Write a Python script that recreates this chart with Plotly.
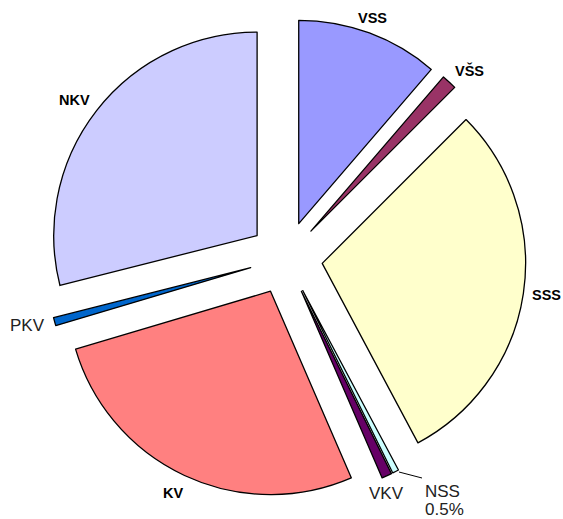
import plotly.graph_objects as go

labels = ["VSS", "VŠS", "SSS", "NSS", "VKV", "KV", "PKV", "NKV"]
values = [11.3, 1.2, 29.7, 0.5, 0.8, 26.9, 0.65, 28.95]
colors = ["#9999FF", "#993366", "#FFFFCC", "#CCFFFF", "#660066", "#FF8080", "#0066CC", "#CCCCFF"]

W, H = 563, 519
L, R, T, B = 46, 37, 18, 21
PW, PH = W - L - R, H - T - B


def px(x, y):
    return (x - L) / PW, 1 - (y - T) / PH


fig = go.Figure(go.Pie(
    labels=labels,
    values=values,
    marker=dict(colors=colors, line=dict(color="black", width=1.3)),
    pull=[0.18] * len(values),
    sort=False,
    direction="clockwise",
    rotation=0,
    textinfo="none",
    hoverinfo="label+percent",
    showlegend=False,
))

bold_labels = [("VSS", 372, 18), ("VŠS", 469, 70), ("SSS", 546, 295), ("NKV", 74, 100), ("KV", 173, 493)]
reg_labels = [("PKV", 27, 325), ("VKV", 386, 493), ("NSS", 442, 491), ("0.5%", 444, 510)]

ann = []
for t, x, y in bold_labels:
    ax, ay = px(x, y)
    ann.append(dict(text="<b>" + t + "</b>", x=ax, y=ay, xref="paper", yref="paper",
                    showarrow=False, xanchor="center", yanchor="middle",
                    font=dict(family="Liberation Sans, Arial", size=14.5, color="black")))
for t, x, y in reg_labels:
    ax, ay = px(x, y)
    ann.append(dict(text=t, x=ax, y=ay, xref="paper", yref="paper",
                    showarrow=False, xanchor="center", yanchor="middle",
                    font=dict(family="Liberation Sans, Arial", size=17, color="#222222")))

x0, y0 = px(399, 472)
x1, y1 = px(422, 478)
fig.add_shape(type="line", xref="paper", yref="paper", x0=x0, y0=y0, x1=x1, y1=y1,
              line=dict(color="black", width=1))

fig.update_layout(
    width=W, height=H,
    margin=dict(l=L, r=R, t=T, b=B),
    paper_bgcolor="white", plot_bgcolor="white",
    annotations=ann,
)

fig.write_html("out.html", config={"displayModeBar": False},
               post_script="document.body.style.margin='0';")
